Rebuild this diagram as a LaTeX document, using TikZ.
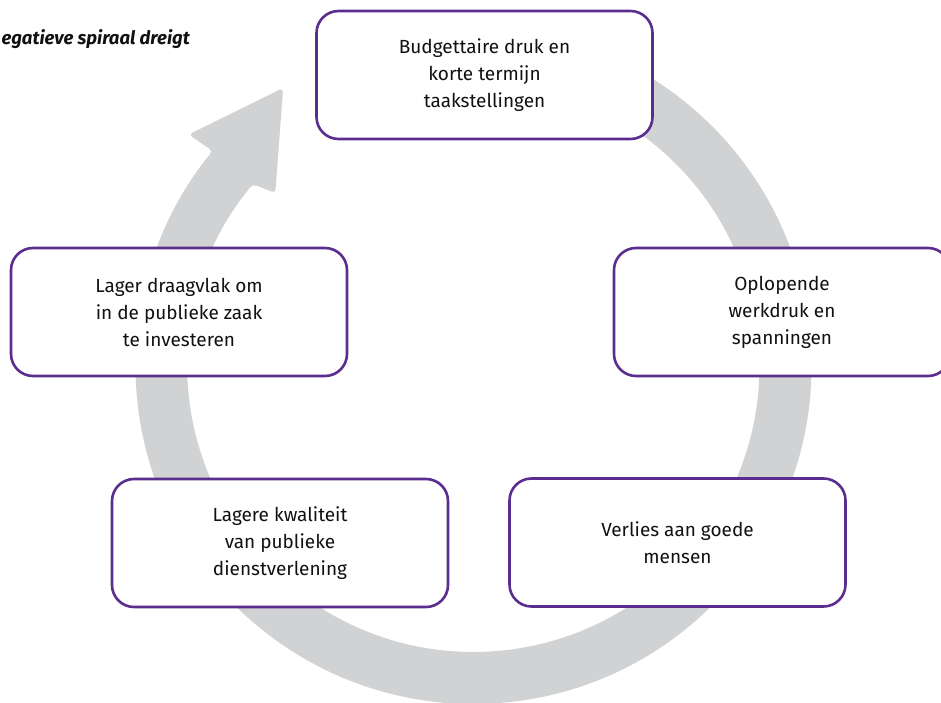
\documentclass[tikz,border=0pt]{standalone}
\usepackage{fontspec}
\setmainfont{Fira Sans}
\definecolor{paars}{HTML}{5B2D8E}
\definecolor{ring}{HTML}{D0D2D3}
\definecolor{tekst}{HTML}{111111}
\tikzset{
  stap/.style={draw=paars, line width=2.6pt, rounded corners=22pt, fill=white,
    minimum width=336pt, minimum height=128pt, align=center, text=tekst,
    font=\fontsize{19}{27}\selectfont},
  titel/.style={anchor=base east, inner sep=0pt, text=tekst,
    font=\fontsize{18.5}{22}\selectfont\bfseries\itshape}
}
\begin{document}
\begin{tikzpicture}[x=1pt, y=1pt]
\useasboundingbox (0,0) rectangle (941,702);
\coordinate (midden) at (473.5,336);
\begin{scope}[shift={(midden)}]
\fill[ring, rounded corners=4pt] (95:338) arc[start angle=95, end angle=-219.5, radius=338]
  -- (140.9:367) -- (124.4:337) -- (138.9:263) -- (140.5:286)
  arc[start angle=140.5, end angle=455, radius=286] -- cycle;
\end{scope}
\node[titel] (kop) at (190,657) {egatieve spiraal dreigt};
\node[stap] (budget) at (484.5,627) {Budgettaire druk en\\korte termijn\\taakstellingen};
\node[stap] (werkdruk) at (782,390) {Oplopende\\werkdruk en\\spanningen};
\node[stap] (verlies) at (677.5,159.5) {Verlies aan goede\\mensen};
\node[stap] (kwaliteit) at (280,159) {Lagere kwaliteit\\van publieke\\dienstverlening};
\node[stap] (draagvlak) at (179,390) {Lager draagvlak om\\in de publieke zaak\\te investeren};
\end{tikzpicture}
\end{document}
